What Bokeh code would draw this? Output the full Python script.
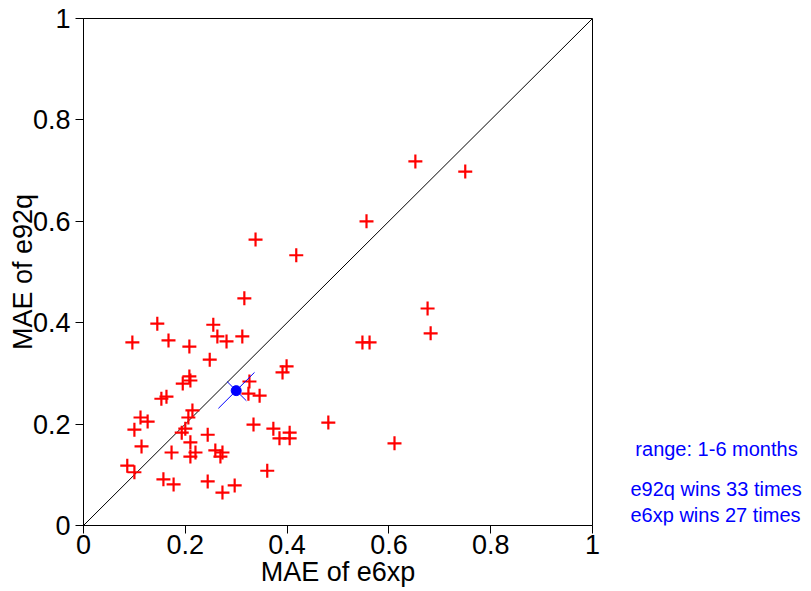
import math
from bokeh.plotting import figure
from bokeh.layouts import row
from bokeh.models import FixedTicker, Range1d
from bokeh.core.properties import value
from bokeh.embed import file_html
from bokeh.resources import INLINE

# MAE values per case (x: e6xp, y: e92q)
mae_e6xp = [0.652, 0.750, 0.556, 0.338, 0.418, 0.316, 0.676, 0.682, 0.548, 0.562,
            0.145, 0.255, 0.096, 0.167, 0.208, 0.263, 0.281, 0.312, 0.248, 0.399,
            0.391, 0.208, 0.210, 0.195, 0.326, 0.324, 0.346, 0.153, 0.163, 0.214,
            0.206, 0.112, 0.126, 0.100, 0.200, 0.193, 0.334, 0.373, 0.385, 0.405,
            0.405, 0.481, 0.244, 0.114, 0.210, 0.173, 0.220, 0.210, 0.259, 0.273,
            0.269, 0.611, 0.086, 0.100, 0.157, 0.177, 0.361, 0.244, 0.273, 0.297]
mae_e92q = [0.718, 0.698, 0.600, 0.564, 0.533, 0.448, 0.428, 0.379, 0.361, 0.361,
            0.398, 0.396, 0.361, 0.365, 0.353, 0.373, 0.363, 0.373, 0.327, 0.314,
            0.302, 0.294, 0.286, 0.280, 0.284, 0.260, 0.256, 0.250, 0.254, 0.227,
            0.213, 0.213, 0.205, 0.189, 0.191, 0.183, 0.199, 0.191, 0.172, 0.183,
            0.172, 0.203, 0.179, 0.156, 0.164, 0.144, 0.144, 0.136, 0.148, 0.144,
            0.136, 0.162, 0.118, 0.105, 0.091, 0.081, 0.108, 0.087, 0.065, 0.079]

# mean point and its spread cross
mean_x = [0.300]
mean_y = [0.266]
major_axis_x = [0.265, 0.336]
major_axis_y = [0.231, 0.302]
minor_axis_x = [0.282, 0.320]
minor_axis_y = [0.284, 0.246]

diag = [0, 1]
ticks = [0, 0.2, 0.4, 0.6, 0.8, 1]
tick_labels = ["0", "0.2", "0.4", "0.6", "0.8", "1"]

info_lines = ["range: 1-6 months", "e92q  wins 33 times", "e6xp  wins 27 times"]

FONT = "Liberation Sans"
W, H = 805, 588
FRAME_L, FRAME_T, FRAME_W, FRAME_H = 83, 18, 509, 507
MAIN_W = 602
BOTTOM = H - FRAME_T - FRAME_H

p = figure(frame_width=FRAME_W, frame_height=FRAME_H, x_range=(0, 1), y_range=(0, 1),
           output_backend="svg", toolbar_location=None,
           min_border_left=FRAME_L, min_border_top=FRAME_T,
           min_border_right=MAIN_W - FRAME_L - FRAME_W,
           min_border_bottom=BOTTOM)
p.grid.visible = False
p.outline_line_color = "black"
p.outline_line_width = 1
p.border_fill_color = "white"

for ax in (p.xaxis[0], p.yaxis[0]):
    ax.ticker = FixedTicker(ticks=ticks)
    ax.major_label_overrides = {t: l for t, l in zip(ticks, tick_labels)}
    ax.major_tick_out = 8
    ax.major_tick_in = 0
    ax.minor_tick_line_color = None
    ax.axis_line_color = "black"
    ax.major_tick_line_color = "black"
    ax.major_label_text_font = FONT
    ax.major_label_text_font_size = "27px"
    ax.major_label_text_color = "black"
    ax.axis_label_text_font = FONT
    ax.axis_label_text_font_size = "27px"
    ax.axis_label_text_font_style = "normal"
    ax.axis_label_text_color = "black"

p.xaxis.major_label_standoff = 1
p.yaxis.major_label_standoff = 5
p.xaxis.axis_label = "MAE of e6xp"
p.xaxis.axis_label_standoff = 0
p.yaxis.axis_label = "MAE of e92q"
p.yaxis.axis_label_standoff = -8

p.line(diag, diag, line_color="black", line_width=1)
p.scatter(mae_e6xp, mae_e92q, marker="cross", size=14, line_color="red", line_width=2.2)
p.line(major_axis_x, major_axis_y, line_color="blue", line_width=1)
p.line(minor_axis_x, minor_axis_y, line_color="blue", line_width=1)
p.scatter(mean_x, mean_y, marker="circle", size=10, fill_color="blue", line_color="blue")

# side panel with the summary text (page pixel coordinates, y down)
q = figure(frame_width=W - MAIN_W, frame_height=FRAME_H,
           x_range=Range1d(MAIN_W, W), y_range=Range1d(FRAME_T + FRAME_H, FRAME_T),
           output_backend="svg", toolbar_location=None,
           min_border_left=0, min_border_right=0,
           min_border_top=FRAME_T, min_border_bottom=BOTTOM)
q.axis.visible = False
q.grid.visible = False
q.outline_line_color = None
q.border_fill_color = "white"

q.text(x=[716], y=[448], text=[info_lines[0]], text_align="center",
       text_baseline="middle", text_font=value(FONT), text_font_size="20px",
       text_color="blue")
q.text(x=[630, 630], y=[488, 514], text=info_lines[1:],
       text_align="left", text_baseline="middle", text_font=value(FONT),
       text_font_size="20px", text_color="blue")

layout = row(p, q, spacing=0)
open("out.html", "w").write(file_html(layout, INLINE))
